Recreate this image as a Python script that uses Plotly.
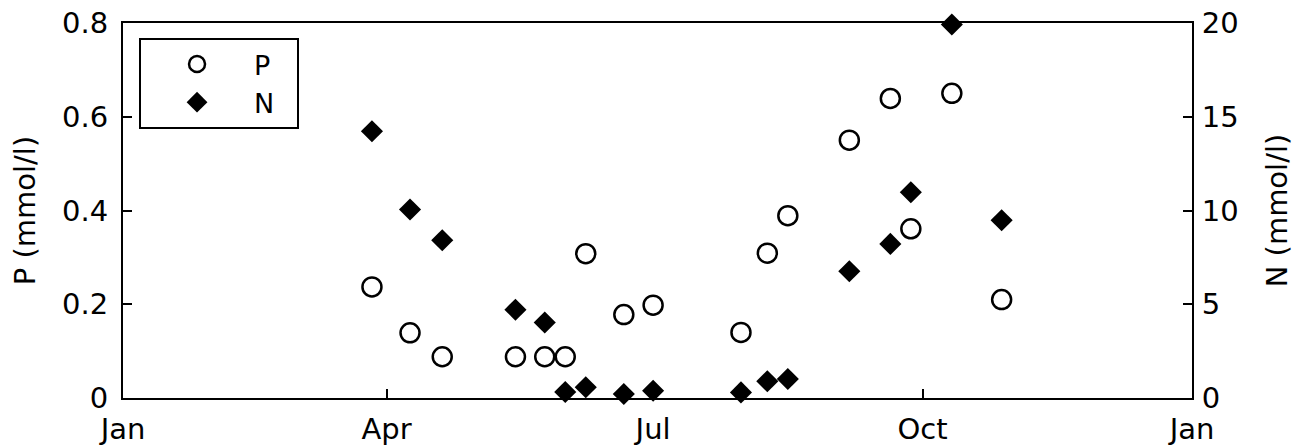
import plotly.graph_objects as go

# Sampling dates (year arbitrary, non-leap)
dates = ["1990-03-27", "1990-04-09", "1990-04-20", "1990-05-15", "1990-05-25",
         "1990-06-01", "1990-06-08", "1990-06-21", "1990-07-01", "1990-07-31",
         "1990-08-09", "1990-08-16", "1990-09-06", "1990-09-20", "1990-09-27",
         "1990-10-11", "1990-10-28"]

# P (mmol/l) - open circles, left axis
p_values = [0.237, 0.139, 0.088, 0.088, 0.088, 0.088, 0.308, 0.178, 0.198,
            0.140, 0.309, 0.389, 0.550, 0.639, 0.361, 0.650, 0.210]

# N (mmol/l) - filled diamonds, right axis
n_values = [14.23, 10.05, 8.41, 4.71, 4.03, 0.32, 0.57, 0.21, 0.39,
            0.30, 0.89, 1.01, 6.76, 8.22, 10.97, 19.92, 9.48]

x_tickvals = ["1990-01-01", "1990-04-01", "1990-07-01", "1990-10-01", "1991-01-01"]
x_ticktext = ["Jan", "Apr", "Jul", "Oct", "Jan"]
p_ticks = [0, 0.2, 0.4, 0.6, 0.8]
p_ticktext = ["0", "0.2", "0.4", "0.6", "0.8"]
n_ticks = [0, 5, 10, 15, 20]

FONT = "DejaVu Sans"
FS = 29

fig = go.Figure()
fig.add_trace(go.Scatter(
    x=dates, y=p_values, mode="markers", name="P\u00a0\u00a0",
    marker=dict(symbol="circle-open", size=19, color="black",
                line=dict(width=2.5, color="black")),
    cliponaxis=False, yaxis="y"))
fig.add_trace(go.Scatter(
    x=dates, y=n_values, mode="markers", name="N\u00a0\u00a0",
    marker=dict(symbol="diamond", size=17, color="black"),
    cliponaxis=False, yaxis="y2"))

axis_common = dict(showline=True, linecolor="black", linewidth=2,
                   ticks="inside", ticklen=9, tickwidth=2, tickcolor="black",
                   showgrid=False, zeroline=False, automargin=False,
                   ticklabeloverflow="allow",
                   tickfont=dict(family=FONT, size=FS, color="black"))

# page body has an 8px margin: figure is shifted by 8px
fig.update_layout(
    width=1298, height=437,
    margin=dict(l=115, r=114, t=15, b=47),
    paper_bgcolor="white", plot_bgcolor="white",
    font=dict(family=FONT, size=FS, color="black"),
    xaxis=dict(type="date", range=["1990-01-01", "1991-01-01"],
               tickvals=x_tickvals, ticktext=x_ticktext, mirror=True,
               ticklabelstandoff=4, **axis_common),
    yaxis=dict(range=[0, 0.8], tickvals=p_ticks, ticktext=p_ticktext,
               mirror=False, ticklabelstandoff=7,
               title=dict(text="P (mmol/l)", font=dict(family=FONT, size=FS), standoff=22),
               **axis_common),
    yaxis2=dict(range=[0, 20], tickvals=n_ticks, overlaying="y", side="right",
                ticklabelstandoff=2,
                title=dict(text="N (mmol/l)", font=dict(family=FONT, size=FS), standoff=29),
                **axis_common),
    legend=dict(x=0.015, y=0.96, xanchor="left", yanchor="top",
                bgcolor="white", bordercolor="black", borderwidth=2,
                font=dict(family=FONT, size=27), itemwidth=104, indentation=-1),
    showlegend=True,
)

fig.write_html("out.html")
